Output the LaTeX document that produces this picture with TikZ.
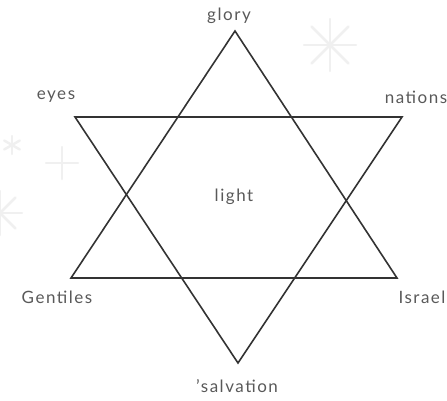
\documentclass[tikz,border=0pt]{standalone}
\usepackage{fontspec}
\setmainfont{Lato}[LetterSpace=9]
\begin{document}
\begin{tikzpicture}[x=1pt,y=-1pt,
  lbl/.style={text=black!65, font=\fontsize{17}{19}\selectfont, inner sep=0pt},
  tri/.style={draw=black!80, line width=1.6pt, line join=miter},
  faint/.style={draw=black!6, line width=2.5pt, line cap=round}]
\useasboundingbox (0,0) rectangle (447,400);
% faint background stars
\foreach \a in {0,45,...,315} \draw[faint] (330,45) -- ++(\a:26);
\foreach \a in {0,60,...,300} \draw[faint] (12,145) -- ++(\a+30:9);
\foreach \a in {0,90,180,270} \draw[faint] (62,163) -- ++(\a:16);
\foreach \a in {0,45,...,315} \draw[faint] (0,213) -- ++(\a:22);
% vertices
\coordinate (T) at (235,31);
\coordinate (BL) at (71,278);
\coordinate (BR) at (397,278);
\coordinate (TL) at (75,117);
\coordinate (TR) at (402,117);
\coordinate (B) at (238,363);
\draw[tri] (T) -- (BR) -- (BL) -- cycle;
\draw[tri] (TL) -- (TR) -- (B) -- cycle;
% labels
\node[lbl] (glory) at (229,16) {glory};
\node[lbl] (eyes) at (56,97) {eyes};
\node[lbl] (nations) at (416,97) {nations};
\node[lbl] (light) at (234,197) {light};
\node[lbl] (gentiles) at (57,297) {Gentiles};
\node[lbl] (israel) at (422,297) {Israel};
\node[lbl] (salvation) at (237,386) {'salvation};
\end{tikzpicture}
\end{document}
